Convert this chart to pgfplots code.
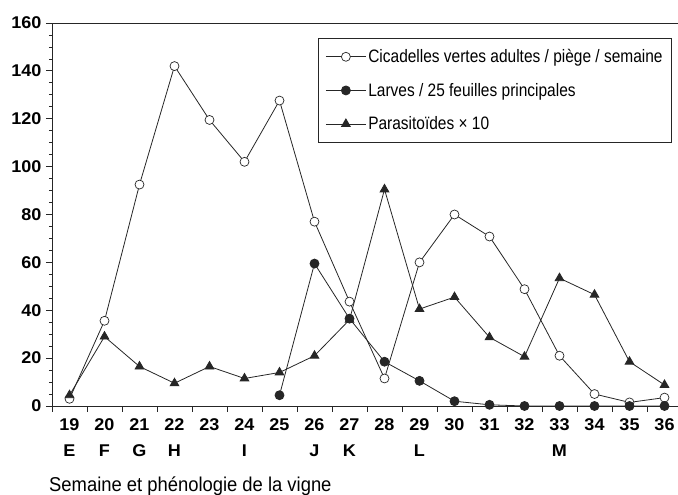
\documentclass[border=0pt]{standalone}
\usepackage{pgfplots}
\pgfplotsset{compat=1.18}
\usepackage{fontspec}
\setmainfont{Liberation Sans}
\newfontfamily\narrow[FakeStretch=0.86]{Liberation Sans}
\newfontfamily\narrowb[FakeStretch=0.92]{Liberation Sans}
\newfontfamily\tickfont[FakeStretch=1.06]{Liberation Sans}
\usetikzlibrary{calc}
\definecolor{ink}{gray}{0.15}

\pgfplotstableread{
w cic lar par
19 3   nan 4.5
20 35.6 nan 29
21 92.5 nan 16.5
22 142 nan 9.5
23 119.5 nan 16.5
24 102 nan 11.5
25 127.6 4.5 14
26 77 59.5 21
27 43.6 36.5 36
28 11.5 18.5 90.5
29 60 10.5 40.5
30 80 2 45.5
31 70.8 0.5 28.7
32 48.8 0 20.6
33 21 0 53.4
34 5 0 46.5
35 1.5 0 18.5
36 3.5 0 8.8
}\data

\begin{document}
\begin{tikzpicture}
\begin{axis}[name=ax, scale only axis, width=630pt, height=383pt,
  xmin=18.5, xmax=36.5, ymin=0, ymax=160,
  axis line style={ink, line width=0.9pt},
  xtick={18.5,19.5,...,36.5}, xticklabels={},
  extra x ticks={19,20,...,36},
  extra x tick labels={19\\E,20\\F,21\\G,22\\H,23\\{},24\\I,25\\{},26\\J,27\\K,28\\{},29\\L,30\\{},31\\{},32\\{},33\\M,34\\{},35\\{},36\\{}},
  extra x tick style={major tick length=0pt, xticklabel style={align=center, font=\tickfont\bfseries\fontsize{17}{26}\selectfont, anchor=north, yshift=-9pt}},
  ytick={0,20,...,160}, minor y tick num=3,
  xtick pos=left, ytick pos=left,
  tick align=outside, major tick length=6pt, minor tick length=3pt,
  tick style={ink, line width=0.8pt},
  yticklabel style={font=\tickfont\bfseries\fontsize{17}{20}\selectfont, xshift=-1pt},
  /pgf/number format/assume math mode=true,
  xlabel={Semaine et phénologie de la vigne},
  xlabel style={at={(axis description cs:0,0)}, anchor=west, yshift=-80pt, xshift=-3pt, font=\narrowb\fontsize{20}{22}\selectfont, inner sep=0pt},
  legend style={at={(axis description cs:0.9841,0.9608)}, anchor=north east,
    draw=ink, line width=0.8pt, font=\narrow\fontsize{18}{20}\selectfont,
    row sep=15pt, inner xsep=7pt, inner ysep=9pt, legend cell align=left},
  legend image code/.code={\draw[mark repeat=2,mark phase=2] plot coordinates {(0pt,0pt) (20pt,0pt) (40pt,0pt)};},
]
\addplot[ink, line width=0.8pt, mark=*, mark size=4.5pt, mark options={fill=white, line width=0.7pt}] table[x=w, y=cic] {\data};
\addlegendentry{Cicadelles vertes adultes / piège / semaine}
\addplot[ink, line width=0.8pt, mark=*, mark size=4.5pt, mark options={fill=ink}, unbounded coords=jump] table[x=w, y=lar] {\data};
\addlegendentry{Larves / 25 feuilles principales}
\addplot[ink, line width=0.8pt, mark=triangle*, mark size=5pt, mark options={fill=ink}] table[x=w, y=par] {\data};
\addlegendentry{Parasitoïdes × 10}
\end{axis}
\pgfresetboundingbox
\path ($(ax.south west)+(-52pt,-89pt)$) rectangle ($(ax.north east)+(-4pt,23pt)$);
\end{tikzpicture}
\end{document}
